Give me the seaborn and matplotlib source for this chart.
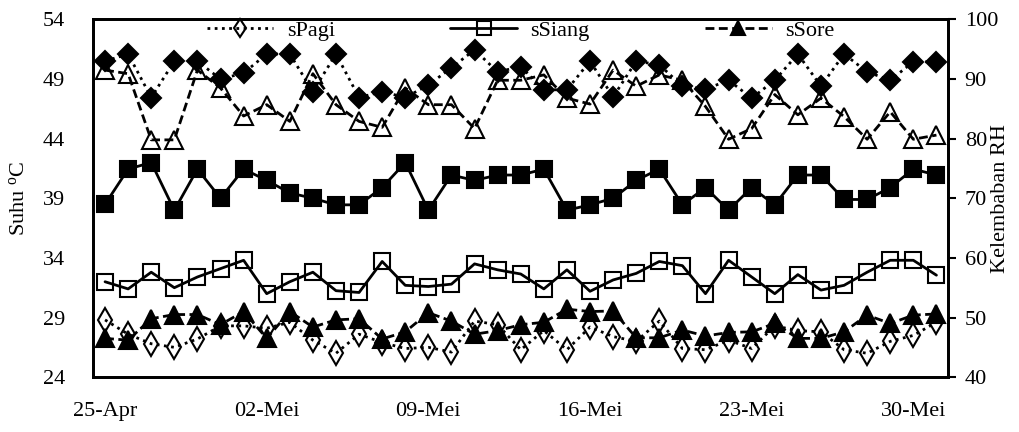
import matplotlib
matplotlib.use("Agg")
import matplotlib.pyplot as plt
import seaborn as sns
import numpy as np

# ---- data -------------------------------------------------------------
tick_positions = [0, 7, 14, 21, 28, 35]
tick_labels = ["25-Apr", "02-Mei", "09-Mei", "16-Mei", "23-Mei", "30-Mei"]
days = list(range(37))  # 25-Apr .. 31-Mei

# temperature (left axis)
s_pagi = [28.8, 27.6, 26.8, 26.5, 27.2, 28.3, 28.3, 28.1, 28.6, 27.1,
          26.0, 27.6, 26.9, 26.4, 26.5, 26.1, 28.7, 28.4, 26.3, 27.9,
          26.3, 28.2, 27.4, 27.0, 28.7, 26.4, 26.3, 27.1, 26.4, 28.3,
          27.9, 27.8, 26.3, 26.0, 27.0, 27.5, 28.6]
s_siang = [32.0, 31.4, 32.8, 31.5, 32.4, 33.1, 33.8, 31.0, 32.0, 32.8,
           31.25, 31.1, 33.7, 31.7, 31.6, 31.8, 33.5, 33.0, 32.65, 31.4,
           33.0, 31.2, 32.15, 32.7, 33.7, 33.35, 31.0, 33.8, 32.4, 31.0,
           32.6, 31.3, 31.7, 32.8, 33.8, 33.8, 32.55]
s_sore = [27.25, 27.1, 28.9, 29.25, 29.25, 28.4, 29.5, 27.25, 29.5, 28.2,
          28.8, 28.9, 27.2, 27.8, 29.4, 28.7, 27.6, 27.9, 28.4, 28.6,
          29.7, 29.5, 29.55, 27.3, 27.3, 27.95, 27.45, 27.75, 27.8, 28.5,
          27.25, 27.25, 27.8, 29.2, 28.5, 29.2, 29.3]

# relative humidity (right axis)
rh_pagi = [93.0, 94.2, 86.9, 93.0, 93.0, 90.0, 91.0, 94.2, 94.2, 87.9,
           94.2, 86.9, 87.9, 86.9, 89.0, 91.9, 94.9, 91.2, 92.1, 88.2,
           88.2, 93.0, 87.0, 93.0, 92.4, 88.8, 88.3, 89.8, 86.8, 89.8,
           94.2, 88.8, 94.2, 91.2, 89.8, 92.9, 92.9]
rh_siang = [69.0, 74.9, 76.0, 68.0, 74.9, 70.0, 74.9, 73.0, 70.9, 70.0,
            68.9, 68.9, 71.8, 76.0, 68.0, 73.9, 73.0, 73.9, 73.9, 74.9,
            68.0, 68.9, 70.0, 73.0, 74.9, 68.9, 71.8, 68.0, 71.8, 68.9,
            73.9, 73.9, 69.8, 69.8, 71.8, 74.9, 73.9]
rh_sore = [91.5, 90.9, 79.8, 79.8, 91.5, 88.5, 83.8, 85.7, 82.9, 90.9,
           85.7, 82.9, 81.9, 88.5, 85.7, 85.7, 81.7, 89.8, 89.8, 90.7,
           86.8, 85.8, 91.5, 88.8, 90.7, 89.8, 85.4, 79.9, 81.7, 87.4,
           84.0, 86.8, 83.7, 79.9, 84.5, 79.9, 80.6]

# ---- style ------------------------------------------------------------
sns.set_theme(style="white")
plt.rcParams["font.family"] = ["Liberation Serif", "DejaVu Serif"]
plt.rcParams["mathtext.fontset"] = "custom"
plt.rcParams["mathtext.rm"] = "Liberation Serif"
plt.rcParams["mathtext.it"] = "Liberation Serif:italic"
plt.rcParams["text.color"] = "black"
plt.rcParams["axes.labelcolor"] = "black"
plt.rcParams["xtick.color"] = "black"
plt.rcParams["ytick.color"] = "black"
FS = 16

fig = plt.figure(figsize=(10.19, 4.32), dpi=100)
ax = fig.add_axes([0.0913, 0.127, 0.8390, 0.828])
ax2 = ax.twinx()

dotted = (0, (1, 1.6))
dashed = (0, (3.2, 1.6))
LW = 2.0

common = dict(color="black", linewidth=LW, markeredgecolor="black",
              markeredgewidth=1.5)

# RH series (right axis)
sns.lineplot(x=days, y=rh_pagi, ax=ax2, linestyle=dotted, marker="D",
             markersize=10, markerfacecolor="black", legend=False, **common)
sns.lineplot(x=days, y=rh_siang, ax=ax2, linestyle="-", marker="s",
             markersize=12, markerfacecolor="black", legend=False, **common)
sns.lineplot(x=days, y=rh_sore, ax=ax2, linestyle=dashed, marker="^",
             markersize=13, markerfacecolor="none", legend=False, **common)

# Temperature series (left axis)
sns.lineplot(x=days, y=s_pagi, ax=ax, linestyle=dotted, marker="d",
             markersize=12, markerfacecolor="none", label="sPagi", **common)
sns.lineplot(x=days, y=s_siang, ax=ax, linestyle="-", marker="s",
             markersize=12, markerfacecolor="none", label="sSiang", **common)
sns.lineplot(x=days, y=s_sore, ax=ax, linestyle=dashed, marker="^",
             markersize=13, markerfacecolor="black", label="sSore", **common)

# axes ranges and ticks
ax.set_xlim(-0.52, 36.5)
ax.set_ylim(24, 54)
ax.set_yticks([24, 29, 34, 39, 44, 49, 54])
ax2.set_ylim(40, 100)
ax2.set_yticks([40, 50, 60, 70, 80, 90, 100])
ax.set_xticks(tick_positions)
ax.set_xticklabels(tick_labels)

ax.tick_params(axis="x", length=0, pad=18, labelsize=FS, colors="black")
ax.tick_params(axis="y", length=0, pad=20, labelsize=FS, colors="black")
ax2.tick_params(axis="y", direction="out", length=6, width=1.5, pad=6,
                labelsize=FS, right=True, colors="black")

for a in (ax, ax2):
    for sp in a.spines.values():
        sp.set_color("black")
        sp.set_linewidth(2.0)

ax.set_ylabel(r"Suhu $^{\mathrm{o}}$C", fontsize=FS, labelpad=10, color="black")
ax2.set_ylabel("Kelembaban RH", fontsize=FS, labelpad=-5, color="black")
ax.set_xlabel("")

ax.set_zorder(ax2.get_zorder() + 1)
ax.patch.set_visible(False)

leg = ax.legend(loc="center", bbox_to_anchor=(0.5, 0.968), ncol=3,
                frameon=False, fontsize=FS, handlelength=3.0,
                columnspacing=5.2, handletextpad=0.6, borderaxespad=0,
                markerscale=0.8)

fig.savefig("out.png", dpi=100)
